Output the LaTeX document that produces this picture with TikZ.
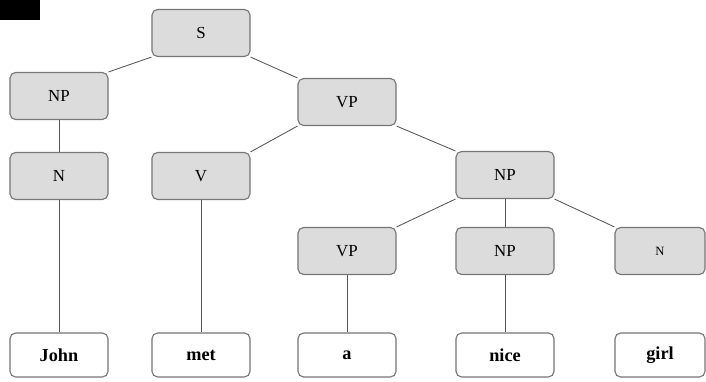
\documentclass[tikz,border=0pt]{standalone}
\usepackage{fontspec}
\setmainfont{Liberation Serif}
\usepackage{xcolor}
\usepackage{tikz}
\usetikzlibrary{positioning}
\definecolor{nodebg}{HTML}{DCDCDC}
\definecolor{nodebd}{HTML}{767676}
\definecolor{edgecol}{HTML}{555555}
\tikzset{
  phrase/.style={draw=nodebd,fill=nodebg,rounded corners=4pt,
                 line width=0.8pt,minimum width=2.45cm,minimum height=1.175cm,
                 inner sep=2pt,font=\fontsize{12}{14}\selectfont},
  word/.style={phrase,fill=white,minimum height=1.1cm,
               font=\fontsize{13}{15}\selectfont\bfseries},
  branch/.style={edgecol,line width=0.6pt},
}

\begin{document}
\begin{tikzpicture}[x=0.025cm,y=-0.025cm]
  \useasboundingbox (0,0) rectangle (706,382);
  \fill[black](0,0)rectangle(40,20);
  % Phrase nodes
  \node[phrase](s)at(201,33){S};
  \node[phrase](np1)at(59,96){NP};
  \node[phrase](vp1)at(347,102){VP};
  \node[phrase](n1)at(59,176){N};
  \node[phrase](v)at(201,176){V};
  \node[phrase](np2)at(505,175){NP};
  \node[phrase](vp2)at(347,251){VP};
  \node[phrase](np3)at(505,251){NP};
  \node[phrase,minimum width=2.25cm,font=\fontsize{9}{11}\selectfont](n2)at(660,251){N};
  % Words
  \node[word](john)at(59,355){John};
  \node[word](met)at(201,355){met};
  \node[word](a)at(347,355){a};
  \node[word](nice)at(505,355){nice};
  \node[word,minimum width=2.25cm](girl)at(660,355){girl};
  % Branches
  \draw[branch](s.south west)--(np1.north east);
  \draw[branch](s.south east)--(vp1.north west);
  \draw[branch](np1)--(n1);
  \draw[branch](vp1.south west)--(v.north east);
  \draw[branch](vp1.south east)--(np2.north west);
  \draw[branch](np2.south west)--(vp2.north east);
  \draw[branch](np2)--(np3);
  \draw[branch](np2.south east)--(n2.north west);
  \draw[branch](n1)--(john);
  \draw[branch](v)--(met);
  \draw[branch](vp2)--(a);
  \draw[branch](np3)--(nice);
\end{tikzpicture}
\end{document}
